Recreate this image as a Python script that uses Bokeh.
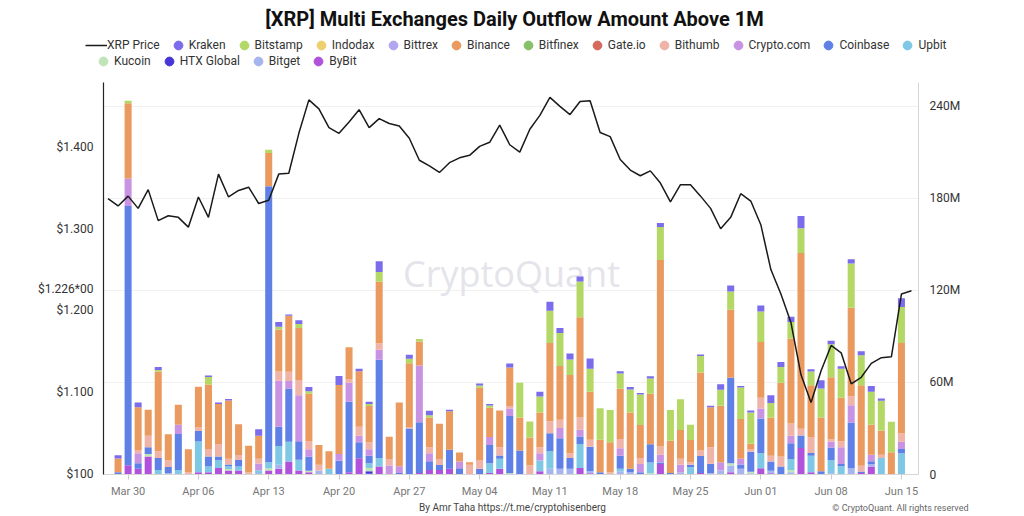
from bokeh.plotting import figure
from bokeh.layouts import column
from bokeh.models import (ColumnDataSource, Range1d, LinearAxis, FixedTicker,
                          Legend, LegendItem, Label)
from bokeh.embed import file_html
from bokeh.resources import INLINE

# ---- data (day index 0 = Mar 28 ... 80 = Jun 16), values in millions XRP ----
tick_days = [2, 9, 16, 23, 30, 37, 44, 51, 58, 65, 72, 79]
tick_labels = ["Mar 30", "Apr 06", "Apr 13", "Apr 20", "Apr 27", "May 04",
               "May 11", "May 18", "May 25", "Jun 01", "Jun 08", "Jun 15"]
current_price = 1.226

price = [
    1.337, 1.328, 1.340, 1.325, 1.348, 1.310, 1.316, 1.314, 1.302, 1.339,
    1.314, 1.367, 1.339, 1.347, 1.351, 1.331, 1.335, 1.367, 1.368, 1.417,
    1.458, 1.447, 1.424, 1.417, 1.431, 1.446, 1.424, 1.435, 1.429, 1.426,
    1.411, 1.384, 1.377, 1.369, 1.381, 1.387, 1.390, 1.401, 1.406, 1.427,
    1.403, 1.394, 1.422, 1.439, 1.461, 1.450, 1.440, 1.456, 1.457, 1.418,
    1.413, 1.385, 1.372, 1.365, 1.371, 1.356, 1.333, 1.354, 1.354, 1.340,
    1.325, 1.300, 1.314, 1.343, 1.334, 1.305, 1.250, 1.220, 1.185, 1.121,
    1.087, 1.126, 1.157, 1.148, 1.110, 1.118, 1.135, 1.142, 1.143, 1.220,
    1.224]

kraken = [
    0, 2, 0, 3, 0, 2, 0, 0, 0, 0,
    1, 1, 1, 0, 0, 4.3, 0, 3.2, 0.8, 2.4,
    2.8, 0, 0, 6, 0, 1.5, 1.5, 7, 0, 0,
    2.6, 0, 2.8, 0, 1, 0, 0, 1.3, 1, 0,
    2.6, 0, 0, 3, 6, 3.2, 3.9, 3.2, 6.7, 0,
    0, 1.5, 1.5, 1, 1.5, 2.6, 0, 0, 0, 1,
    1, 3.7, 3.9, 1, 1.3, 3.9, 5, 3.2, 3.5, 8,
    1.5, 5.4, 2.2, 1.7, 2.8, 2.6, 3.7, 1.5, 0, 5.8,
    0]
bitstamp = [
    0, 0, 1.7, 0, 0, 1, 0, 0, 0, 0,
    4.8, 0, 0, 0, 0, 0, 2.2, 1.7, 0, 2.6,
    1.7, 0, 0, 0, 0, 0, 1.3, 6.5, 0, 0,
    3, 1.5, 1.5, 0, 0, 0, 0, 1.5, 1.5, 0,
    0, 22.7, 10.4, 10.4, 21, 21.6, 10.2, 23.4, 15, 20.5,
    21, 10, 15, 20, 10, 21.6, 20, 20, 10, 10.8,
    0, 10.4, 11.9, 20.5, 20.5, 19.9, 9.7, 10.2, 10.8, 16.2,
    8.9, 18.8, 21.6, 18.8, 28.7, 19.5, 21.6, 19.5, 19.9, 23.4,
    0]
indodax = [0] * 81
bittrex = [0] * 81
binance = [
    0, 9, 49, 28, 17, 52, 17, 13, 15, 26.6,
    42, 26, 38, 20, 17.3, 15, 21.6, 27.5, 36.5, 34,
    30.7, 13, 11.5, 45, 21, 36.3, 23.8, 40, 14.5, 41.7,
    41.5, 15.8, 19.5, 23, 25, 5.8, 1.7, 47, 19, 24,
    25, 21.6, 18.4, 22.7, 51, 35, 51, 65.3, 31.3, 21.2,
    19.5, 32.8, 36.8, 21.4, 32.8, 121.5, 21, 18.8, 14.5, 50.8,
    26, 36.8, 44.3, 26, 3.7, 36.3, 24.8, 48.2, 55.3, 114.6,
    34, 35, 40.4, 28.5, 57.7, 52.5, 19.5, 15.8, 14.5, 59,
    0]
bitfinex = [0] * 81
gateio = [0] * 81
bithumb = [
    0, 0, 0, 2, 7.6, 4.3, 4.3, 0, 1.5, 2.2,
    5, 8.2, 3.7, 3.2, 1.5, 3.2, 0, 6, 6, 10,
    5.4, 3.7, 0, 0, 2.2, 5.8, 4.3, 4.3, 4.3, 0,
    1, 0, 3.9, 3.9, 0, 0, 6.3, 5.8, 0, 5.4,
    1.7, 0, 5.8, 3.9, 7.8, 5.4, 3, 8, 4.5, 0,
    1.5, 6, 0, 3.9, 0, 5.4, 0, 3.9, 1.7, 3.7,
    10.8, 0, 0, 0, 1.5, 7.1, 3.7, 6.5, 8, 4.3,
    10.2, 0, 1.7, 3.9, 6, 3.7, 0, 2, 0, 5.4,
    0]
cryptocom = [
    0, 0, 18, 6.5, 0, 0, 0, 6, 0, 0,
    0, 0, 0, 0, 0, 4.3, 0, 30, 5, 30,
    5, 0, 0, 4.3, 12.3, 4.3, 4.3, 6.5, 5.8, 4.3,
    0, 37, 5.2, 0, 0, 4.5, 0, 0, 5.2, 0,
    4.8, 0, 0, 4.8, 0, 6.7, 0, 4.5, 0, 0,
    0, 4.8, 0, 5.4, 0, 5, 0, 4.8, 0, 0,
    0, 5.4, 0, 3.7, 0, 6.5, 0, 0, 5, 0,
    0, 0, 3.7, 10.8, 11.2, 0, 4.3, 0, 0, 4.8,
    0]
coinbase = [
    0, 1.5, 169, 3.7, 4.3, 7.8, 3.9, 23.4, 0, 6.9,
    6.5, 2.2, 1.3, 4.3, 0, 0, 180, 12.5, 34.6, 12,
    9, 0, 0, 9, 46, 10.4, 4.8, 64, 0, 1,
    30, 33, 5.6, 3.2, 12.5, 4, 0, 3.7, 12, 2.2,
    37.4, 15.6, 0, 0, 11.7, 19.9, 7.1, 4.8, 16, 1.5,
    0, 8.6, 2.2, 1.5, 11.9, 1, 1, 0, 1.5, 11,
    6, 0, 55.8, 2.8, 13, 22.7, 6, 5.2, 10.2, 8.2,
    1.7, 2.2, 8.2, 1.5, 29.8, 1, 1.7, 0, 0, 2.8,
    0]
upbit = [
    0, 0, 0, 0, 0, 3, 0, 3, 0, 20,
    3.7, 5.2, 1.7, 2.6, 0, 1.7, 3.9, 12.3, 13, 7,
    0, 0, 3.7, 0, 0, 0, 3.2, 5.6, 0, 0,
    0, 0, 0, 0, 0, 0, 0, 0, 6.3, 6.5,
    0, 0, 0, 6.9, 11.5, 0, 0, 15.6, 0, 0,
    0, 1.5, 0, 0, 7.1, 0, 0, 0, 4.8, 0,
    0, 0, 0, 0, 0, 9.7, 0, 0, 7.1, 0,
    10.8, 0, 8.6, 5.4, 0, 0, 0, 10.8, 0, 13.8,
    0]
kucoin = [
    0, 0, 0, 0, 1.7, 0, 0, 0, 0, 0,
    0, 0, 1, 0, 0, 0, 1.5, 0, 0, 0,
    1, 0, 0, 0, 0, 0, 2, 0, 0, 0,
    0, 0, 0, 0, 0, 0, 0, 0, 0, 0,
    0.8, 0, 0, 0, 0, 0, 0, 0, 0, 0,
    0, 0, 0, 0, 0.8, 0, 0, 0, 0, 0,
    0, 0, 1.5, 0, 1, 0, 0, 0, 1.5, 0,
    0, 0, 0, 0, 0, 0, 0, 0, 0, 0,
    0]
htx = [0] * 26 + [1.7] + [0] * 54
bitget = [
    0, 0, 0, 0, 0, 0, 1, 0, 0, 0,
    0, 0, 0, 0, 0, 1, 0, 2.6, 0, 0,
    0, 2.6, 0, 0, 0, 0, 0, 0, 0, 0,
    0, 0, 0, 0, 0, 0, 0, 0, 0, 0,
    0, 0, 0, 0, 3.7, 3.7, 3.7, 0, 1.3, 0,
    0, 2.2, 1.5, 0, 0, 0, 0, 1.5, 0, 0,
    1, 2.6, 4.3, 3.7, 0.8, 0, 1.7, 0, 1.5, 0,
    0, 0, 0.8, 0, 4.1, 0, 1.7, 0, 0, 0,
    0]
bybit = [
    0, 0, 6, 3.7, 11.7, 0, 0, 0, 0, 1.5,
    1.5, 4.3, 2.6, 2.6, 0, 0, 2.6, 3.7, 8.4, 2.6,
    1.5, 0, 0, 0, 1.5, 10.6, 0.5, 5.2, 0, 0,
    0, 1, 3, 3, 3.7, 0, 0, 0, 1, 3.7,
    0, 0, 0, 2.2, 0, 0, 0, 4.3, 0.8, 0,
    0, 0, 0, 0, 0, 6.9, 0, 0, 0, 1,
    0, 0, 1.5, 0, 0, 4.1, 0.8, 0, 0, 17.3,
    1.5, 0, 0, 0, 0, 1, 5.2, 0, 0, 0,
    0]

exchanges = ["Kraken", "Bitstamp", "Indodax", "Bittrex", "Binance", "Bitfinex",
             "Gate.io", "Bithumb", "Crypto.com", "Coinbase", "Upbit", "Kucoin",
             "HTX Global", "Bitget", "ByBit"]
series = [kraken, bitstamp, indodax, bittrex, binance, bitfinex, gateio, bithumb,
          cryptocom, coinbase, upbit, kucoin, htx, bitget, bybit]
colors = ["#7b6cec", "#b4d866", "#eecf6e", "#b3a6ee", "#ea9a5e", "#86c169",
          "#d36a5b", "#efb3a8", "#c993e3", "#5f80e6", "#7ec8e5", "#bfe4b6",
          "#4636d8", "#a7b5ee", "#b052dc"]

days = list(range(len(price)))
W = 1008


def no_frame_align(fig):
    if "frame_align" in fig.properties():
        fig.frame_align = False


# ================= header: title + legend =================
header = figure(width=W, height=78, output_backend="svg", toolbar_location=None,
                x_range=Range1d(0, W), y_range=Range1d(0, 78), min_border=0,
                min_border_left=0, min_border_right=0, min_border_top=0,
                min_border_bottom=0,
                x_axis_location=None, y_axis_location=None,
                outline_line_color=None, title=None)
no_frame_align(header)
header.grid.visible = False
header.add_layout(Label(x=514, y=60, text="[XRP] Multi Exchanges Daily Outflow Amount Above 1M",
                        text_align="center", text_baseline="middle",
                        text_font="Roboto", text_font_size="20px",
                        text_font_style="bold", text_color="#111111"))

h_line = header.line(x=[-20, -10], y=[-20, -20], line_color="#1a1a1a", line_width=1.5)
h_marks = {}
for name, c in zip(exchanges, colors):
    h_marks[name] = header.scatter(x=[-20], y=[-20], marker="circle", size=10,
                                   fill_color=c, line_color=c)

row1 = [LegendItem(label="XRP Price", renderers=[h_line])] + \
       [LegendItem(label=n, renderers=[h_marks[n]]) for n in exchanges[:11]]
row2 = [LegendItem(label=n, renderers=[h_marks[n]]) for n in exchanges[11:]]


def make_legend(items, loc):
    return Legend(items=items, orientation="horizontal", location=loc,
                  border_line_color=None, background_fill_alpha=0,
                  label_text_font="Roboto", label_text_font_size="12px",
                  label_text_color="#333333", glyph_width=22, glyph_height=22,
                  label_standoff=0, spacing=7, padding=0, margin=0,
                  label_height=12)


header.add_layout(make_legend(row1, (85, 22)))
header.add_layout(make_legend(row2, (92, 6)))

# ================= main chart =================
p = figure(width=W, height=422, output_backend="svg", toolbar_location=None,
           x_range=Range1d(-0.45, 80.7), y_range=Range1d(0, 255.6),
           y_axis_location="right", title=None,
           min_border_left=103, min_border_right=90, min_border_top=4,
           min_border_bottom=24, background_fill_color="white",
           border_fill_color="white", outline_line_color=None)
no_frame_align(p)
p.extra_y_ranges = {"price": Range1d(0.9988, 1.4793)}

data = {"x": days}
keys = []
for i, s in enumerate(series):
    k = "s%d" % i
    data[k] = s
    keys.append(k)
src = ColumnDataSource(data)

# stack bottom -> top is the reverse of legend order
p.vbar_stack(keys[::-1], x="x", width=0.7, color=colors[::-1], source=src,
             line_color=None)

p.line(days, price, y_range_name="price", line_color="#1a1a1a", line_width=1.5)

# right (main) axis
right_ticker = FixedTicker(ticks=[0, 60, 120, 180, 240])
ra = p.right[0]
ra.ticker = right_ticker
ra.major_label_overrides = {0: "0", 60: "60M", 120: "120M", 180: "180M", 240: "240M"}
ra.axis_line_color = "#d6d6d6"
ra.major_tick_line_color = None
ra.minor_tick_line_color = None
ra.major_label_text_font = "Roboto"
ra.major_label_text_font_size = "12px"
ra.major_label_text_color = "#333333"
ra.major_label_standoff = 5

p.ygrid.ticker = right_ticker
p.ygrid.grid_line_color = "#f1f1f1"
p.xgrid.visible = False

# left price axis (current price shown as an extra tick label)
la = LinearAxis(y_range_name="price",
                ticker=FixedTicker(ticks=[1.0, 1.1, 1.2, current_price, 1.3, 1.4]))
la.major_label_overrides = {1.0: "$100", 1.1: "$1.100", 1.2: "$1.200",
                            current_price: "$1.226*00",
                            1.3: "$1.300", 1.4: "$1.400"}
la.axis_line_color = "#222222"
la.axis_line_width = 1.2
la.major_tick_line_color = None
la.minor_tick_line_color = None
la.major_label_text_font = "Roboto"
la.major_label_text_font_size = "12px"
la.major_label_text_color = "#333333"
la.major_label_standoff = 4
p.add_layout(la, "left")

# x axis
xa = p.below[0]
xa.ticker = FixedTicker(ticks=tick_days)
xa.major_label_overrides = dict(zip(tick_days, tick_labels))
xa.axis_line_color = "#d6d6d6"
xa.major_tick_line_color = "#cccccc"
xa.major_tick_in = 0
xa.major_tick_out = 5
xa.minor_tick_line_color = None
xa.major_label_text_font = "Roboto"
xa.major_label_text_font_size = "11px"
xa.major_label_text_color = "#777777"
xa.major_label_standoff = 5

# watermark
p.add_layout(Label(x=408, y=201, x_units="screen", y_units="screen",
                   text="CryptoQuant", text_align="center", text_baseline="middle",
                   text_font="Open Sans", text_font_size="36px",
                   text_color="#e4e4ea", level="underlay"))

# ================= footer =================
footer = figure(width=W, height=14, output_backend="svg", toolbar_location=None,
                x_range=Range1d(0, W), y_range=Range1d(0, 14), min_border=0,
                min_border_left=0, min_border_right=0, min_border_top=0,
                min_border_bottom=0,
                x_axis_location=None, y_axis_location=None,
                outline_line_color=None, title=None)
no_frame_align(footer)
footer.grid.visible = False
footer.add_layout(Label(x=512, y=7, text="By Amr Taha https://t.me/cryptohisenberg",
                        text_align="center", text_baseline="middle",
                        text_font="Roboto", text_font_size="10px",
                        text_color="#444444"))
footer.add_layout(Label(x=968, y=7, text="\u00a9 CryptoQuant. All rights reserved",
                        text_align="right", text_baseline="middle",
                        text_font="Roboto", text_font_size="9px",
                        text_color="#666666"))

layout = column(header, p, footer, spacing=0)
open("out.html", "w").write(file_html(layout, INLINE))
